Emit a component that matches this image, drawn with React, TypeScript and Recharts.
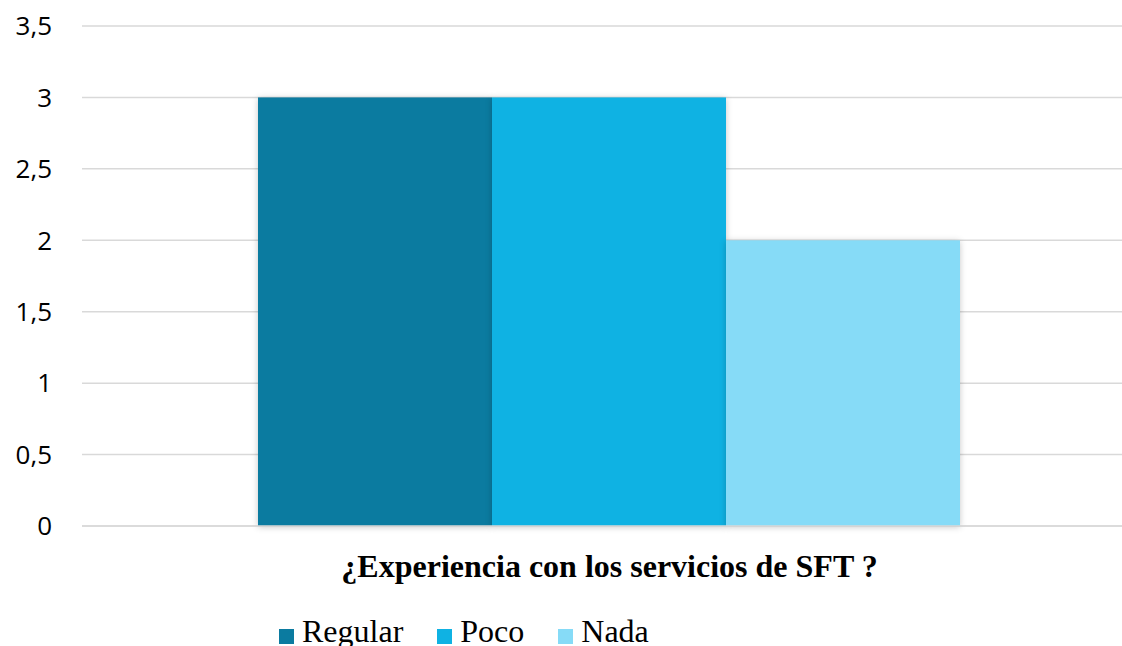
import { BarChart, Bar, XAxis, YAxis, CartesianGrid } from "recharts";

const categories = ["¿Experiencia con los servicios de SFT ?"];
const regular = [3];
const poco = [3];
const nada = [2];
const yTicks = [0, 0.5, 1, 1.5, 2, 2.5, 3, 3.5];

const SERIES = [
  { key: "Regular", values: regular, color: "#0B7BA0" },
  { key: "Poco", values: poco, color: "#0FB2E3" },
  { key: "Nada", values: nada, color: "#86DBF7" },
];

const data = categories.map((name, i) => {
  const row: Record<string, string | number> = { name };
  SERIES.forEach((s) => (row[s.key] = s.values[i]));
  return row;
});

// bar with a soft grey glow like the office export
function ShadowBar(props: any) {
  const { x, y, width, height, fill } = props;
  if (!height || height <= 0) return null;
  return (
    <rect
      x={x}
      y={y}
      width={width}
      height={height}
      fill={fill}
      style={{ filter: "drop-shadow(0px 1px 3px rgba(0,0,0,0.22))" }}
    />
  );
}

export default function App() {
  return (
    <div style={{ position: "absolute", left: 0, top: 0, width: 1122, height: 646, overflow: "hidden", background: "#fff" }}>
      <BarChart
        width={1137}
        height={646}
        data={data}
        margin={{ top: 26, right: 0, left: 0, bottom: 0 }}
        barGap={0}
        barCategoryGap={176}
      >
        <CartesianGrid vertical={false} stroke="#d9d9d9" strokeWidth={1.5} />
        <XAxis
          dataKey="name"
          height={120}
          axisLine={{ stroke: "#d9d9d9", strokeWidth: 1.5 }}
          tickLine={false}
          tickSize={0}
          tickMargin={28}
          tick={{ fill: "#000", fontFamily: "Liberation Serif", fontWeight: 700, fontSize: 32 }}
        />
        <YAxis
          width={82}
          domain={[0, 3.5]}
          ticks={yTicks}
          interval={0}
          axisLine={false}
          tickLine={false}
          tickSize={0}
          tickMargin={30}
          tickFormatter={(v: number) => String(v).replace(".", ",")}
          tick={{ fill: "#000", fontFamily: "Open Sans", fontSize: 26 }}
        />
        {SERIES.map((s) => (
          <Bar key={s.key} dataKey={s.key} fill={s.color} shape={<ShadowBar />} isAnimationActive={false} />
        ))}
      </BarChart>
      <div
        style={{
          position: "absolute",
          left: 279,
          top: 613,
          display: "flex",
          alignItems: "flex-start",
          fontFamily: "Liberation Serif",
          fontSize: 32,
          color: "#000",
          lineHeight: "36px",
          whiteSpace: "nowrap",
        }}
      >
        {SERIES.map((s) => (
          <div key={s.key} style={{ display: "flex", alignItems: "flex-start", marginRight: 34 }}>
            <span style={{ display: "inline-block", width: 15, height: 15, background: s.color, marginRight: 8, marginTop: 16 }} />
            <span>{s.key}</span>
          </div>
        ))}
      </div>
    </div>
  );
}
